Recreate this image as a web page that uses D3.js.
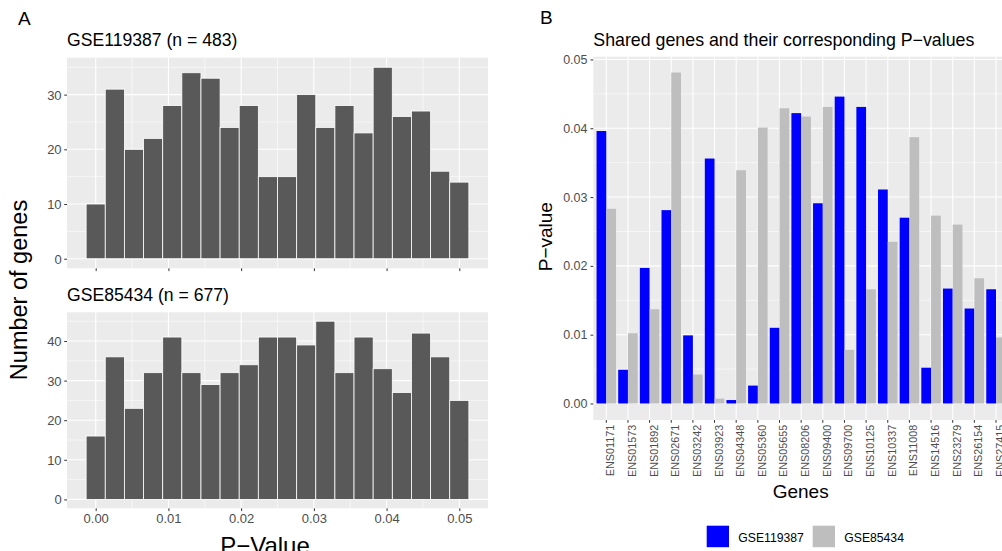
<!DOCTYPE html>
<html>
<head>
<meta charset="utf-8">
<script src="https://cdn.jsdelivr.net/npm/d3@7"></script>
<style>
  html, body { margin: 0; padding: 0; background: #ffffff; overflow: hidden; }
  svg { display: block; font-family: "Liberation Sans", Arial, Helvetica, sans-serif; }
</style>
</head>
<body>
<svg id="chart" width="1002" height="551"></svg>
<script>
// ---------- DATA ----------
const binCenters = [0.00000, 0.00263, 0.00526, 0.00789, 0.01053, 0.01316, 0.01579, 0.01842, 0.02105, 0.02368,
                    0.02632, 0.02895, 0.03158, 0.03421, 0.03684, 0.03947, 0.04211, 0.04474, 0.04737, 0.05000];
const binWidth = 0.0026316;
const countsGSE119387 = [10, 31, 20, 22, 28, 34, 33, 24, 28, 15, 15, 30, 24, 28, 23, 35, 26, 27, 16, 14];
const countsGSE85434  = [16, 36, 23, 32, 41, 32, 29, 32, 34, 41, 41, 39, 45, 32, 41, 33, 27, 42, 36, 25];
const histXTicks = [0.00, 0.01, 0.02, 0.03, 0.04, 0.05];
const histXTickLabels = ["0.00", "0.01", "0.02", "0.03", "0.04", "0.05"];
const histTopYTicks = [0, 10, 20, 30];
const histBottomYTicks = [0, 10, 20, 30, 40];

const genes = ["ENS01171", "ENS01573", "ENS01892", "ENS02671", "ENS03242", "ENS03923", "ENS04348", "ENS05360",
               "ENS05655", "ENS08206", "ENS09400", "ENS09700", "ENS10125", "ENS10337", "ENS11008", "ENS14516",
               "ENS23279", "ENS26154", "ENS27415"];
const pGSE119387 = [0.0396, 0.0049, 0.0197, 0.0281, 0.0099, 0.0356, 0.0005, 0.0026, 0.0110, 0.0422,
                    0.0291, 0.0446, 0.0431, 0.0311, 0.0270, 0.0052, 0.0167, 0.0138, 0.0166];
const pGSE85434  = [0.0283, 0.0102, 0.0137, 0.0481, 0.0042, 0.0007, 0.0339, 0.0401, 0.0429, 0.0417,
                    0.0431, 0.0078, 0.0166, 0.0235, 0.0387, 0.0273, 0.0260, 0.0182, 0.0096];
const seriesNames = ["GSE119387", "GSE85434"];
const seriesColors = ["#0000ff", "#bebebe"];
const barYTicks = [0.00, 0.01, 0.02, 0.03, 0.04, 0.05];
const barYMinor = [0.005, 0.015, 0.025, 0.035, 0.045];

// ---------- SETUP ----------
const svg = d3.select("#chart");
const PANEL = "#ebebeb", TICKC = "#333333", LABC = "#4d4d4d";

// ---------- PANEL A ----------
const xA = d3.scaleLinear().domain([-0.003947, 0.053947]).range([67, 488]);
const xMinorA = [0.005, 0.015, 0.025, 0.035, 0.045];

function histogram(g, counts, yDomain, yRange, yTicks, yMinor, showXLabels, title, titleY) {
  const y = d3.scaleLinear().domain(yDomain).range(yRange);
  g.append("rect").attr("x", xA.range()[0]).attr("y", yRange[1])
    .attr("width", xA.range()[1] - xA.range()[0]).attr("height", yRange[0] - yRange[1]).attr("fill", PANEL);
  // minor grid
  g.selectAll(".ymin").data(yMinor).enter().append("line")
    .attr("x1", xA.range()[0]).attr("x2", xA.range()[1]).attr("y1", d => y(d)).attr("y2", d => y(d))
    .attr("stroke", "#fff").attr("stroke-width", 0.55);
  g.selectAll(".xmin").data(xMinorA).enter().append("line")
    .attr("y1", yRange[0]).attr("y2", yRange[1]).attr("x1", d => xA(d)).attr("x2", d => xA(d))
    .attr("stroke", "#fff").attr("stroke-width", 0.55);
  // major grid
  g.selectAll(".ymaj").data(yTicks).enter().append("line")
    .attr("x1", xA.range()[0]).attr("x2", xA.range()[1]).attr("y1", d => y(d)).attr("y2", d => y(d))
    .attr("stroke", "#fff").attr("stroke-width", 1.1);
  g.selectAll(".xmaj").data(histXTicks).enter().append("line")
    .attr("y1", yRange[0]).attr("y2", yRange[1]).attr("x1", d => xA(d)).attr("x2", d => xA(d))
    .attr("stroke", "#fff").attr("stroke-width", 1.1);
  // bars
  g.selectAll(".bar").data(counts).enter().append("rect")
    .attr("x", (d, i) => xA(binCenters[i] - binWidth / 2))
    .attr("width", (d, i) => xA(binCenters[i] + binWidth / 2) - xA(binCenters[i] - binWidth / 2))
    .attr("y", d => y(d)).attr("height", d => y(0) - y(d))
    .attr("fill", "#595959").attr("stroke", "#ffffff").attr("stroke-width", 0.8);
  // y axis
  const ya = g.append("g").attr("transform", `translate(${xA.range()[0]},0)`)
    .call(d3.axisLeft(y).tickValues(yTicks).tickSize(2.8).tickPadding(2.6).tickFormat(d3.format("d")));
  ya.select(".domain").remove();
  ya.selectAll("line").attr("stroke", TICKC).attr("stroke-width", 1);
  ya.selectAll("text").attr("fill", LABC).style("font-size", "13px").attr("dy", "0.35em")
    .style("font-family", "'Liberation Sans', Arial, sans-serif");
  // x axis
  const xa = g.append("g").attr("transform", `translate(0,${yRange[0]})`)
    .call(d3.axisBottom(xA).tickValues(histXTicks).tickSize(2.8).tickPadding(3)
      .tickFormat((d, i) => showXLabels ? histXTickLabels[i] : ""));
  xa.select(".domain").remove();
  xa.selectAll("line").attr("stroke", TICKC).attr("stroke-width", 1);
  xa.selectAll("text").attr("fill", LABC).style("font-size", "13px")
    .style("font-family", "'Liberation Sans', Arial, sans-serif");
  // title
  g.append("text").attr("x", 67).attr("y", titleY).text(title)
    .style("font-size", "17.6px").attr("fill", "#000");
}

const gA = svg.append("g");
histogram(gA, countsGSE119387, [-1.75, 36.75], [268.3, 57.7], histTopYTicks, [5, 15, 25, 35], false,
          "GSE119387 (n = 483)", 46);
histogram(gA, countsGSE85434, [-2.25, 47.25], [508.3, 312.3], histBottomYTicks, [5, 15, 25, 35, 45], true,
          "GSE85434 (n = 677)", 300.7);

svg.append("text").attr("x", 18).attr("y", 25).text("A").style("font-size", "19px");
svg.append("text").attr("transform", "translate(27,290) rotate(-90)").attr("text-anchor", "middle")
  .text("Number of genes").style("font-size", "23.5px");
svg.append("text").attr("x", 265).attr("y", 553.5).attr("text-anchor", "middle")
  .text("P\u2212Value").style("font-size", "24px");

// ---------- PANEL B ----------
const gB = svg.append("g");
const xB = d3.scaleBand().domain(genes).range([593.3, 1009]).paddingInner(0).paddingOuter(0.1);
const yB = d3.scaleLinear().domain([-0.0024, 0.0504]).range([420, 56.7]);
const bx0 = xB.range()[0], bx1 = xB.range()[1];
gB.append("rect").attr("x", bx0).attr("y", 56.7).attr("width", bx1 - bx0).attr("height", 420 - 56.7).attr("fill", PANEL);
gB.selectAll(".ymin").data(barYMinor).enter().append("line")
  .attr("x1", bx0).attr("x2", bx1).attr("y1", d => yB(d)).attr("y2", d => yB(d))
  .attr("stroke", "#fff").attr("stroke-width", 0.55);
gB.selectAll(".ymaj").data(barYTicks).enter().append("line")
  .attr("x1", bx0).attr("x2", bx1).attr("y1", d => yB(d)).attr("y2", d => yB(d))
  .attr("stroke", "#fff").attr("stroke-width", 1.1);
gB.selectAll(".xmaj").data(genes).enter().append("line")
  .attr("x1", d => xB(d) + xB.bandwidth() / 2).attr("x2", d => xB(d) + xB.bandwidth() / 2)
  .attr("y1", 56.7).attr("y2", 420).attr("stroke", "#fff").attr("stroke-width", 1.1);

const barW = xB.step() * 0.45;
const seriesData = [pGSE119387, pGSE85434];
seriesData.forEach((vals, s) => {
  gB.selectAll(".b" + s).data(vals).enter().append("rect")
    .attr("x", (d, i) => xB(genes[i]) + xB.bandwidth() / 2 + (s === 0 ? -barW : 0))
    .attr("width", barW)
    .attr("y", d => yB(d)).attr("height", d => yB(0) - yB(d))
    .attr("fill", seriesColors[s]);
});

const yaB = gB.append("g").attr("transform", `translate(${bx0},0)`)
  .call(d3.axisLeft(yB).tickValues(barYTicks).tickSize(2.8).tickPadding(3).tickFormat(d3.format(".2f")));
yaB.select(".domain").remove();
yaB.selectAll("line").attr("stroke", TICKC);
yaB.selectAll("text").attr("fill", LABC).style("font-size", "12.5px")
  .style("font-family", "'Liberation Sans', Arial, sans-serif");

const xaB = gB.append("g").attr("transform", "translate(0,420)")
  .call(d3.axisBottom(xB).tickSize(2.8).tickPadding(0));
xaB.select(".domain").remove();
xaB.selectAll("line").attr("stroke", TICKC);
xaB.selectAll("text").attr("fill", LABC).style("font-size", "10.8px")
  .style("font-family", "'Liberation Sans', Arial, sans-serif")
  .attr("text-anchor", "end").attr("dy", null).attr("y", 0).attr("x", 0)
  .attr("transform", "translate(8,4.8) rotate(-90)");

svg.append("text").attr("x", 540).attr("y", 24).text("B").style("font-size", "19px");
svg.append("text").attr("x", 593.3).attr("y", 46).text("Shared genes and their corresponding P\u2212values")
  .style("font-size", "17.8px");
svg.append("text").attr("transform", "translate(551.7,236.7) rotate(-90)").attr("text-anchor", "middle")
  .text("P\u2212value").style("font-size", "19px");
svg.append("text").attr("x", 800.7).attr("y", 498.3).attr("text-anchor", "middle")
  .text("Genes").style("font-size", "19px");

// legend
const legX = [706.7, 812.7];
seriesNames.forEach((name, i) => {
  svg.append("rect").attr("x", legX[i]).attr("y", 525.7).attr("width", 22.3).attr("height", 21.5)
    .attr("fill", seriesColors[i]);
  svg.append("text").attr("x", legX[i] + 31.6).attr("y", 541.5).text(name).style("font-size", "12.2px");
});
</script>
</body>
</html>
